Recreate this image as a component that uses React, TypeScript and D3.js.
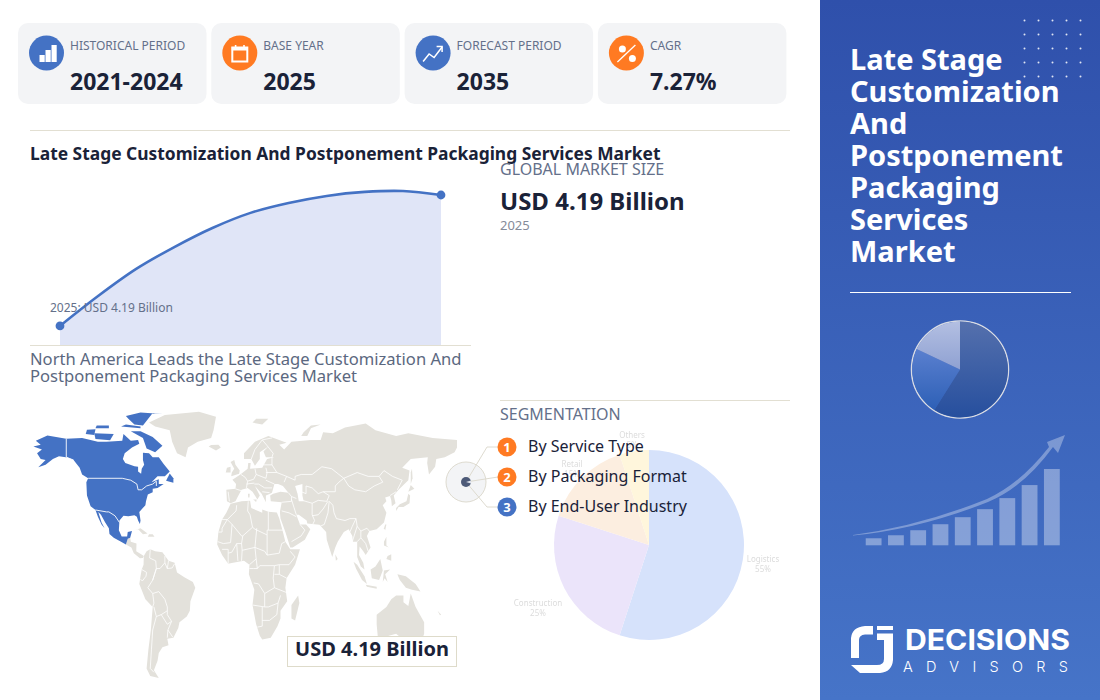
import React from 'react';
import * as d3 from 'd3';

type P = [number, number];

const FONT = '"Noto Sans", "Open Sans", sans-serif';
const BLUE = '#4472c4';
const ORANGE = '#ff7a22';
const INK = '#1a2238';
const SLATE = '#64708a';
const RULE = '#e2dfd2';
const LAND = '#e3e1db';

const cards = [
  { label: 'HISTORICAL PERIOD', value: '2021-2024', color: BLUE, icon: 'bars' },
  { label: 'BASE YEAR', value: '2025', color: ORANGE, icon: 'calendar' },
  { label: 'FORECAST PERIOD', value: '2035', color: BLUE, icon: 'trend' },
  { label: 'CAGR', value: '7.27%', color: ORANGE, icon: 'percent' },
];

const years = [2025, 2026, 2027, 2028, 2029, 2030, 2031, 2032, 2033, 2034, 2035];
const marketValues = [4.19, 5.16, 6.04, 6.75, 7.37, 7.86, 8.18, 8.41, 8.54, 8.57, 8.44];

const segNames = ['By Service Type', 'By Packaging Format', 'By End-User Industry'];
const segColors = [ORANGE, ORANGE, BLUE];

const pieLabels = ['Logistics', 'Construction', 'Retail', 'Others'];
const pieValues = [55, 25, 15, 5];
const pieColors = ['#d6e2fb', '#ebe4fa', '#fceee0', '#fff6dc'];

const sidePieValues = [59, 23, 18];
const sideBars = [7, 10, 15, 21, 28, 36, 47, 60, 76];
const sideTitle = ['Late Stage', 'Customization', 'And', 'Postponement', 'Packaging', 'Services', 'Market'];

const naRings: P[][] = [
  [[-168,65.5],[-162,66.5],[-166,68.5],[-156.5,71.3],[-141,69.6],[-128,70],[-115,68],[-108,68],[-95,68.5],[-94,72],[-88,68.5],[-82,69],[-81,67],[-87,65],[-93,62],[-94.5,59],[-92.5,57],[-85,55.3],[-82,55],[-82,52.5],[-79.5,51.3],[-79,54],[-77,56],[-78,58.5],[-78,62.3],[-73,62],[-70,60],[-65,60],[-61,56.5],[-56,52.5],[-60,50],[-66,50],[-71,47],[-65,48.5],[-65,46],[-61,46],[-66,44],[-70,43.5],[-70,41.7],[-74,40.5],[-75.5,37],[-76,35],[-81,31.5],[-80,27],[-80.5,25.2],[-82,27],[-83,29],[-85,29.7],[-90,29.2],[-94,29.5],[-97.3,27],[-97.8,22],[-95.5,18.7],[-91,18.7],[-90.5,21],[-87,21.5],[-88.5,18],[-90.5,17.5],[-92,14.5],[-96,16],[-102,18],[-105.5,20],[-106,23],[-109,26],[-112.5,30],[-114.7,31.5],[-112,26],[-109.5,23],[-112,25],[-115,29],[-117,32.5],[-121,34.5],[-124,40],[-124.5,47],[-123,49],[-128,51],[-130,54.5],[-135,58.5],[-140,59.8],[-147,60.5],[-152,59],[-158,56],[-164,54.7],[-158,58.5],[-162,59],[-165,62],[-161,64]],
  [[-62,66],[-68,62.5],[-75,64.5],[-78,70],[-88,73.5],[-80,73.5],[-70,70.5]],
  [[-117,69.5],[-105,68.8],[-102,72],[-118,72.5]],
  [[-125,72],[-118,71.5],[-117,74.5],[-124,74.3]],
  [[-90,80],[-85,77],[-78,76.5],[-70,83],[-62,82.5],[-80,83.2],[-92,81.5]],
  [[-96,76],[-80,75],[-80,76],[-92,77]],
  [[-117,75],[-106,75],[-106,76.5],[-116,76.5]],
  [[-59,47.7],[-53,46.7],[-53,49],[-56,51.5]],
];

const naBorders: P[][] = [
  [[-123,49],[-95,49],[-88,48],[-83,46],[-82,43],[-79,43],[-75,45],[-70,46],[-67,47.5],[-67,45]],
  [[-141,69.6],[-141,60],[-135,58.5]],
  [[-117,32.5],[-108,31.5],[-106,31.5],[-101,29.5],[-97.3,26]],
];

const landRings: P[][] = [
  // Central America and the Caribbean
  [[-92,14.5],[-90.5,17.5],[-88.5,18],[-88,16],[-83.3,15],[-83.5,11],[-79.5,9.5],[-77.3,8.5],[-78,7.5],[-80.5,7.3],[-85.5,10],[-87.5,13]],
  [[-85,22],[-80,23],[-74.2,20.2],[-78,19.9],[-82,22.5]],
  [[-74,18.5],[-68.5,18.5],[-70,19.8],[-73,19.9]],
  // Greenland, Iceland
  [[-73,78],[-60,82],[-32,83.6],[-18,81],[-20,74],[-22,70],[-33,68],[-41,65],[-43,60],[-50,62],[-54,68],[-56,74],[-68,76]],
  [[-24,65.5],[-18,63.5],[-14,65],[-16,66.5],[-22,66.3]],
  // South America
  [[-77.3,8.5],[-75,11],[-72,12],[-68,11],[-62,10.5],[-57,6],[-52,5],[-50,0],[-44,-2.5],[-37,-5],[-35,-8],[-39,-15],[-39.5,-20],[-42,-23],[-48,-26],[-49,-29],[-53,-34],[-58,-34.5],[-57,-38],[-62,-39],[-65,-42],[-66,-46],[-69,-51],[-65,-55],[-72,-54],[-75,-50],[-73.5,-40],[-71.5,-30],[-70,-18],[-76,-14],[-81,-6],[-80,-2],[-79,1.5],[-77.5,4]],
  // Africa
  [[-6,35.8],[3,37],[10,37.3],[11,33.5],[20,31],[20,32.8],[25,31.6],[32,31.2],[34,28],[37,21],[39,16],[43,12],[51,12],[47,4],[40,-3],[39,-8],[40.5,-15],[35,-20],[35,-24],[32.5,-28],[27,-34],[20,-35],[18,-33],[15,-27],[12,-17],[13.5,-9],[9,-1],[9.5,4],[5,6],[-4,5],[-8,4.5],[-13,9],[-17,14.5],[-16,21],[-13,27.5],[-9.5,31]],
  [[49.5,-12],[50.5,-16],[47,-25],[44,-24],[44,-17]],
  // Eurasia
  [[-9,37],[-9.5,43],[-2,43.5],[-1.5,46],[-4.5,48.3],[2,51],[8,54],[8.5,57],[10.5,57],[10,54],[20,54.5],[24,59],[30,60],[23,60],[21,63],[25,65.5],[18,62.5],[18,59],[14,55.5],[11,59],[5,59],[5,62],[14,68],[25,71],[40,67.5],[34,66.5],[38,64],[44,68],[60,69],[68,69],[70,73],[78,72.5],[88,75.5],[105,77.5],[113,74],[130,71],[140,72.5],[160,70],[170,69.5],[180,69],[180,65],[178,62.5],[170,60],[163,59],[162,55],[157,51],[155.5,57],[156,60],[142,59],[135,54.5],[141,53],[140,48],[132,43],[128,40],[129.5,36],[126.5,34.5],[126,37.5],[125,39.8],[121,39],[122,37],[119,35],[122,31],[120,26],[114,22.5],[108,21.5],[106,19],[109,13],[105,9],[103,11],[100,13.5],[99.5,9],[103,5],[104,1.5],[101,3],[98,8],[98,16],[94.5,16],[94,19],[91,22.5],[87,21],[82,16],[80,13],[77.5,8],[73,17],[72.5,21],[67,24.8],[57,25.5],[56.5,27],[50,30],[48,30],[51,25],[56,25],[59.5,22.5],[55,17],[45,13],[43,13],[39,21],[35,28],[34.5,31.5],[36,36.5],[27,37],[26.5,40],[29,41],[35,42],[41.5,41.5],[37,45],[33,46],[30,46],[28,41.5],[26,40.8],[23,40],[23,36.5],[19.5,41],[14,45],[18,40],[16,38],[12,42],[8,44],[3,43],[0,39.5],[-2,37],[-6,36]],
  // Islands
  [[-5.5,50],[1,51.3],[1.5,53],[-2,56],[-3,58.5],[-6,57.5],[-3,54],[-5,52]],
  [[-10,52],[-6,52],[-6,55],[-9,54.5]],
  [[12,78],[20,77],[25,80],[15,80]],
  [[52,71],[57,71],[60,75],[68,77],[60,76.5],[54,73]],
  [[12.5,38],[15.5,38],[15,36.7]],
  [[8.3,41],[9.7,41],[9.5,39],[8.5,39]],
  [[80,9.5],[82,7],[80.5,6]],
  [[130,32],[132,34],[136,34],[141,36],[141.5,40],[140,41],[138.5,37],[133,35.5],[130,33.5]],
  [[140,42],[145,43.5],[142,45.5]],
  [[142,46],[143.5,49],[143,54],[142,52]],
  [[120,23],[121,25],[122,25],[121,22]],
  [[120,16],[122,18.5],[122,14],[124,13],[120,14]],
  [[122,7],[126,6],[126,9.5],[123,8.5]],
  [[95,5.5],[98,4],[104,-2],[106,-6],[102,-4],[97,2]],
  [[105,-6.5],[114,-7.5],[114,-8.5],[106,-7.5]],
  [[109,1.5],[113,3],[117,7],[119,1],[116,-4],[110,-3]],
  [[119,-5],[120,1],[125,1.5],[121,-1],[123,-5],[120.5,-3]],
  [[131,-1],[138,-2],[146,-6],[150,-10],[143,-9],[138,-8],[133,-4]],
  [[164,-20],[167,-22],[166,-22.3]],
  [[114,-22],[122,-18],[126,-14],[130,-12],[136,-12],[136,-15.5],[140,-17.5],[142,-11],[146,-18],[153,-26],[153,-32],[150,-37.5],[146,-39],[140,-38],[135,-34.5],[130,-32],[124,-33],[118,-35],[115,-34],[114,-27]],
];

const lakeRings: P[][] = [
  [[47,45],[53,46],[53,40],[54,37],[50,37],[49,41]],
];

const landBorders: P[][] = [
  // South America
  [[-72,12],[-72.5,7.5],[-67.5,6],[-67,2],[-70,-4]],
  [[-79,1.5],[-75,0],[-75.5,-2],[-78.5,-4.5],[-80,-3.5]],
  [[-60,8.5],[-60,5],[-64,2],[-67,2],[-70,-4],[-74,-8],[-70,-11],[-65,-10],[-60,-14],[-58,-18],[-58,-22],[-54.5,-25.5],[-57.5,-30],[-53.5,-33.7]],
  [[-60,5],[-58,2],[-54,2.3],[-52,4.5]],
  [[-57,6],[-58,2]],
  [[-70,-11],[-69,-16],[-70,-18]],
  [[-69,-18],[-67,-23],[-70,-30],[-71,-40],[-72,-50],[-69,-52]],
  [[-67,-23],[-63,-22],[-58,-20]],
  [[-63,-22],[-58,-27],[-54.5,-25.5]],
  [[-57.5,-30],[-58,-34]],
  // Africa
  [[-1,35],[-1.5,32],[-8.7,27.5],[-13,27.5]],
  [[-8.7,27.5],[-4.8,25],[3,19],[4,19],[12,23.5],[10,30],[8,32],[8.5,37]],
  [[12,23.5],[14,22.5],[24,19.5],[24,22],[25,22],[25,31.6]],
  [[25,22],[37,22]],
  [[-16.5,16],[-12,15],[-6,15.5],[-4.8,25]],
  [[-16,21],[-13,21],[-13,23],[-8.7,27.5]],
  [[4,19],[3,15],[-1,15],[-5,10.5],[-8,10],[-8,4.5]],
  [[-13,12],[-8,12],[-8,10]],
  [[-1,15],[0,6]],
  [[3,15],[3.5,11.5],[14,13],[15.5,23]],
  [[3,6],[3.5,11.5]],
  [[14,13],[15,7],[9.5,4]],
  [[14,13],[22,11],[24,9],[24,19.5]],
  [[15,7],[16,2],[13,2],[9.5,2]],
  [[16,2],[18,3.5],[30,3.5],[34,4],[42,4],[47,8],[43,11]],
  [[24,9],[34,10],[36,15],[39,16]],
  [[34,4],[34,-1],[40,-3]],
  [[30,3.5],[29,-3],[30,-8],[22,-11],[22,-18],[12,-17]],
  [[13,-5.5],[17,-6],[22,-11]],
  [[30,-8],[40,-10.5]],
  [[34,-1],[30,-1]],
  [[22,-18],[25,-18],[33,-16],[35,-12]],
  [[20,-18],[20,-28],[16,-28.5]],
  [[20,-25],[26,-25],[32,-22],[33,-16]],
  // Asia
  [[28,60],[28,56],[32,52],[40,50],[38,47]],
  [[40,50],[47,48],[47,50],[52,51],[61,51],[69,55],[77,54],[83,51],[87,49],[98,52],[107,50],[116,50],[120,53],[127,50],[135,48],[131,43]],
  [[87,49],[91,45],[96,43],[105,42],[112,45],[119,47],[116,50]],
  [[52,42],[56,41],[56,45],[61,44],[66,41],[70,42],[80,42],[80,45],[83,47],[87,49]],
  [[53,37.5],[61,36],[66,37.5],[73,37],[75,40],[70,42]],
  [[61,36],[61,30],[63,27],[61.5,25]],
  [[61,29.5],[66,30],[70,33],[74,37]],
  [[67.5,24],[71,25],[74,31],[75,37]],
  [[75,37],[78,35],[79,31],[81,28],[88,27],[92,28],[97,28],[94,24],[92,21]],
  [[97,28],[98,24],[101,21.5],[106,23],[108,21.5]],
  [[98,16],[101,18],[105,15],[107,11]],
  [[101,21.5],[101,18]],
  [[98,24],[94,16]],
  [[44,38],[46,34],[48,30]],
  [[36,32],[42,31],[48,29]],
  [[51,25],[55,22],[52,19],[44,16]],
  [[36,36.5],[44,37],[44,39.5],[41.5,41.5]],
  [[44,39.5],[48,38.5]],
  [[125,40],[130,42]],
  // Europe
  [[-2,43.5],[3,42.5]],
  [[-8,42],[-7,37]],
  [[2.5,51],[6,49.5],[8,47.5],[7,44]],
  [[14,54],[15,51],[13,48.5],[8,47.5]],
  [[7,46],[13.5,46.5]],
  [[15,51],[23,49],[24,52],[23,54.5]],
  [[23,52],[32,52]],
  [[23,48],[30,46]],
  [[21,56],[28,56]],
  [[13.5,46],[17,46],[22,44],[28,44]],
  [[20,42],[26,41.5]],
  [[11,59],[14,64],[20,69],[28,70]],
  [[20,69],[24,66],[29,62],[28,60]],
];

const lon = d3.scaleLinear().domain([-168, 180]).range([33.4, 457]);
const lat = d3.scaleLinear().domain([83, -55]).range([413, 678]);
const geo = d3.line<P>().x((d) => lon(d[0])).y((d) => lat(d[1]));
const ring = (r: P[]) => (geo(r) as string) + 'Z';

const cardX = d3.scaleLinear().domain([0, 1]).range([18, 211.3]);
const xYear = d3.scaleLinear().domain([2025, 2035]).range([60, 441]);
const yValue = d3.scaleLinear().domain([3.57, 8.44]).range([345, 195]);

function Icon({ kind }: { kind: string }) {
  if (kind === 'bars') {
    return (
      <g fill="#fff">
        <rect x={-7} y={2} width={5.2} height={7} />
        <rect x={-1} y={-3} width={5.2} height={12} />
        <rect x={5} y={-8} width={5.2} height={17} />
      </g>
    );
  }
  if (kind === 'calendar') {
    return (
      <g>
        <rect x={-7.5} y={-5.5} width={15} height={14} fill="none" stroke="#fff" strokeWidth={2} />
        <rect x={-8} y={-6} width={16} height={3.5} fill="#fff" />
        <rect x={-5} y={-8} width={1.6} height={3} fill="#fff" />
        <rect x={3.4} y={-8} width={1.6} height={3} fill="#fff" />
      </g>
    );
  }
  if (kind === 'trend') {
    return (
      <g fill="none" stroke="#fff" strokeWidth={1.5}>
        <path d="M-10,8.5L-4,1L1,4.5L9,-6" />
        <path d="M3.5,-6.5L9,-6.5L9,-1" />
      </g>
    );
  }
  return (
    <g>
      <circle cx={-4} cy={-4} r={3.5} fill="#fff" />
      <circle cx={6} cy={5.5} r={3.5} fill="#fff" />
      <line x1={-9} y1={9} x2={9} y2={-8} stroke="#fff" strokeWidth={1.3} />
    </g>
  );
}

export default function App() {
  const area = d3
    .area<number>()
    .x((_, i) => xYear(years[i]))
    .y0(yValue(3.57))
    .y1((d) => yValue(d))
    .curve(d3.curveCatmullRom.alpha(0.5));
  const line = d3
    .line<number>()
    .x((_, i) => xYear(years[i]))
    .y((d) => yValue(d))
    .curve(d3.curveCatmullRom.alpha(0.5));

  const pie = d3.pie<number>().sort(null);
  const arc = d3.arc<d3.PieArcDatum<number>>().innerRadius(0).outerRadius(95);
  const pieArcs = pie(pieValues);
  const pieLabelPos: P[] = [[114, 14], [-111, 58], [-77, -81], [-17, -110]];

  const sideArc = d3.arc<d3.PieArcDatum<number>>().innerRadius(0).outerRadius(48);
  const sideArcs = pie(sidePieValues);

  const barX = d3.scaleBand<number>().domain(sideBars.map((_, i) => i)).range([863.5, 1062]).paddingInner(0.29).paddingOuter(0.1);
  const barY = d3.scaleLinear().domain([0, 76]).range([545.3, 469]);

  const dotsX = d3.range(5).map((i) => 1024.5 + i * 14);
  const dotsY = d3.range(5).map((i) => 20.5 + i * 14);

  return (
    <svg width={1100} height={700} viewBox="0 0 1100 700" style={{ position: 'absolute', left: 0, top: 0, fontFamily: FONT }}>
      <defs>
        <linearGradient id="panel" x1="0" y1="0" x2="0" y2="1">
          <stop offset="0" stopColor="#2f50ab" />
          <stop offset="1" stopColor="#4674c8" />
        </linearGradient>
        <linearGradient id="s0" x1="0" y1="0" x2="0" y2="1">
          <stop offset="0" stopColor="#5570ad" />
          <stop offset="1" stopColor="#264f9e" />
        </linearGradient>
        <linearGradient id="s1" x1="0" y1="0" x2="0" y2="1">
          <stop offset="0" stopColor="#5a7fcf" />
          <stop offset="1" stopColor="#2d60b6" />
        </linearGradient>
        <linearGradient id="s2" x1="0" y1="0" x2="0" y2="1">
          <stop offset="0" stopColor="#b3bfe2" />
          <stop offset="1" stopColor="#8fa1d2" />
        </linearGradient>
        <filter id="soft" x="-5%" y="-5%" width="110%" height="110%">
          <feGaussianBlur stdDeviation="0.5" />
        </filter>
      </defs>
      <rect width={1100} height={700} fill="#fff" />

      {cards.map((c, i) => (
        <g key={c.label}>
          <rect x={cardX(i)} y={23} width={188.5} height={81} rx={10} fill="#f3f4f6" />
          <g transform={`translate(${cardX(i) + 28.5},53)`}>
            <circle r={17.5} fill={c.color} />
            <Icon kind={c.icon} />
          </g>
          <text x={cardX(i) + 52} y={50} fontSize={12} fill={SLATE}>{c.label}</text>
          <text x={cardX(i) + 52} y={90} fontSize={23} fontWeight={700} fill={INK}>{c.value}</text>
        </g>
      ))}

      <line x1={30} x2={790} y1={130.5} y2={130.5} stroke={RULE} />
      <text x={30} y={160} fontSize={17.4} fontWeight={700} fill={INK}>Late Stage Customization And Postponement Packaging Services Market</text>

      <text x={500} y={175} fontSize={16} fill={SLATE}>GLOBAL MARKET SIZE</text>
      <text x={500} y={210} fontSize={24} fontWeight={700} fill={INK}>USD 4.19 Billion</text>
      <text x={500} y={230} fontSize={13} fill="#858b99">2025</text>

      <path d={area(marketValues) as string} fill="#e0e5f7" />
      <path d={line(marketValues) as string} fill="none" stroke={BLUE} strokeWidth={2.6} />
      {[0, marketValues.length - 1].map((i) => (
        <circle key={i} cx={xYear(years[i])} cy={yValue(marketValues[i])} r={4.4} fill={BLUE} />
      ))}
      <text x={50} y={312} fontSize={12} fill={SLATE}>2025: USD 4.19 Billion</text>
      <line x1={30} x2={471} y1={345.5} y2={345.5} stroke={RULE} />

      <text fontSize={16.6} fill="#5b6880">
        <tspan x={30} y={365}>North America Leads the Late Stage Customization And</tspan>
        <tspan x={30} y={382}>Postponement Packaging Services Market</tspan>
      </text>

      <g fill={LAND} stroke="#fff" strokeWidth={0.7} strokeLinejoin="round">
        {landRings.map((r, i) => <path key={i} d={ring(r)} stroke="none" />)}
      </g>
      <g fill="#fff">
        {lakeRings.map((r, i) => <path key={i} d={ring(r)} />)}
      </g>
      <g fill="none" stroke="#fff" strokeWidth={0.8} strokeLinejoin="round">
        {landBorders.map((r, i) => <path key={i} d={geo(r) as string} />)}
      </g>
      <g fill={BLUE}>
        {naRings.map((r, i) => <path key={i} d={ring(r)} />)}
      </g>
      <g fill="none" stroke="#fff" strokeWidth={0.9} strokeLinejoin="round">
        {naBorders.map((r, i) => <path key={i} d={geo(r) as string} />)}
      </g>

      <rect x={287.5} y={636.5} width={169} height={30} fill="#fff" stroke="#dedbca" />
      <text x={372} y={656} textAnchor="middle" fontSize={20} fontWeight={700} fill={INK}>USD 4.19 Billion</text>

      <line x1={500} x2={790} y1={400.5} y2={400.5} stroke={RULE} />
      <text x={500} y={420} fontSize={16} fill={SLATE}>SEGMENTATION</text>

      <g transform="translate(649,545)" filter="url(#soft)">
        {pieArcs.map((a, i) => <path key={i} d={arc(a) as string} fill={pieColors[i]} />)}
        {pieArcs.map((a, i) => (
          <text key={i} textAnchor="middle" fontSize={8} fill="#dcdcdc">
            <tspan x={pieLabelPos[i][0]} y={pieLabelPos[i][1] + 3}>{pieLabels[i]}</tspan>
            <tspan x={pieLabelPos[i][0]} y={pieLabelPos[i][1] + 13}>{pieValues[i]}%</tspan>
          </text>
        ))}
      </g>

      <circle cx={466} cy={482} r={20} fill="#f3f4f6" stroke="#dedbd0" />
      <g fill="none" stroke="#dedbd0">
        <path d="M466,482L487,447L498,447" />
        <path d="M466,482L498,477" />
        <path d="M466,482L487,507L498,507" />
      </g>
      <circle cx={466} cy={482} r={5} fill="#4d5a78" />
      <path d="M466,482L471,480.5A5,5,0,0,1,471,483.5Z" fill="#dfe3ec" />
      {segNames.map((s, i) => (
        <g key={s}>
          <circle cx={507} cy={447 + i * 30} r={9.5} fill={segColors[i]} />
          <text x={507} y={451.5 + i * 30} textAnchor="middle" fontSize={13} fontWeight={700} fill="#fff">{i + 1}</text>
          <text x={528} y={452 + i * 30} fontSize={16} fill={INK}>{s}</text>
        </g>
      ))}

      <rect x={820} width={280} height={700} fill="url(#panel)" />
      {dotsY.map((y) => dotsX.map((x) => <circle key={`${x}-${y}`} cx={x} cy={y} r={1} fill="#fff" opacity={0.85} />))}
      <text fontSize={29} fontWeight={700} fill="#fff">
        {sideTitle.map((t, i) => <tspan key={t} x={850} y={70 + i * 32}>{t}</tspan>)}
      </text>
      <line x1={850} x2={1071} y1={292.5} y2={292.5} stroke="#fff" />

      <g transform="translate(960,369.5)">
        <circle r={48.5} fill="none" stroke="#d9dce4" strokeWidth={1.5} />
        {sideArcs.map((a, i) => <path key={i} d={sideArc(a) as string} fill={`url(#s${i})`} />)}
      </g>

      {sideBars.map((v, i) => (
        <rect key={i} x={barX(i)} y={barY(v)} width={barX.bandwidth()} height={barY(0) - barY(v)} fill="#fff" opacity={0.36} />
      ))}
      <path
        d="M853,535Q920,526 987,499Q1020,484 1049,447L1047,442L1065,435L1058,453L1053,447Q1024,487 988,502Q920,529 853,535.6Z"
        fill="#fff"
        opacity={0.32}
      />

      <g fill="#fff">
        <path d="M851,658L851,638Q852,627 865,626L873,626L873,634.5L865,634.5Q859,635 859,640L859,658Z" />
        <path d="M877,626L893,626L893,630L877,630Z" />
        <path d="M877,633.5L893,633.5L893,660Q892,672 880,673L860,673L851,665L877,665Q884,665 884,659L884,640L877,640Z" />
        <text x={905} y={650} fontFamily="Inter, Lato, sans-serif" fontSize={29} fontWeight={700} textLength={165} lengthAdjust="spacingAndGlyphs">DECISIONS</text>
        <text x={903} y={672} fontFamily="Inter, Lato, sans-serif" fontSize={14.5} fontWeight={300} textLength={165} lengthAdjust="spacing">ADVISORS</text>
      </g>
    </svg>
  );
}
